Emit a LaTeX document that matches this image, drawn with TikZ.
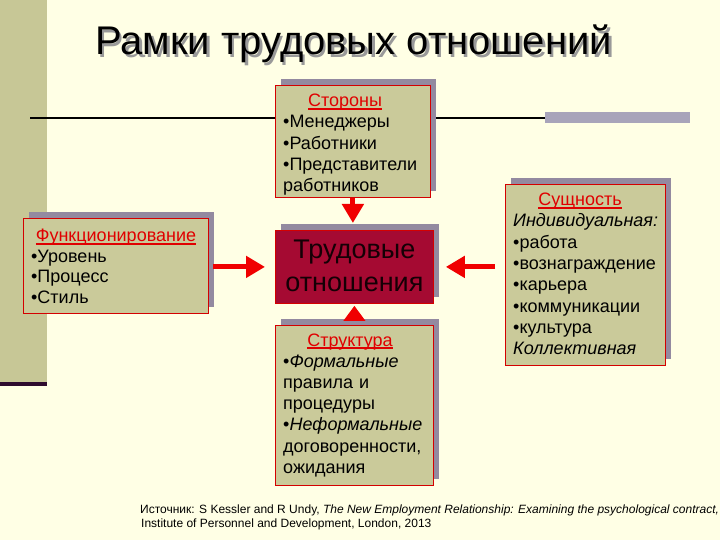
\documentclass[tikz,border=0pt]{standalone}
\usepackage{fontspec}
\setmainfont{Liberation Sans}
\usetikzlibrary{arrows.meta}
\definecolor{bgc}{HTML}{FFFFE5}
\definecolor{sidec}{HTML}{C7C796}
\definecolor{sidedark}{HTML}{2E0B2E}
\definecolor{barc}{HTML}{A8A4BA}
\definecolor{khaki}{HTML}{CACA9A}
\definecolor{boxred}{HTML}{D40000}
\definecolor{shadowc}{HTML}{938AA0}
\definecolor{crimson}{HTML}{A50A32}
\definecolor{arrred}{HTML}{F00000}
\definecolor{hdred}{HTML}{E00000}
\definecolor{inktext}{RGB}{20,0,5}
\newcommand{\hdul}[1]{\setbox0\hbox{#1}\rlap{\rule[-2.6bp]{\wd0}{1.4bp}}\box0}
\newcommand{\shadtext}[1]{\rlap{\kern2.5bp\raisebox{-2.5bp}{\textcolor{black!40}{#1}}}#1}
\tikzset{
  box/.style={draw=boxred, line width=0.8bp, fill=khaki, inner sep=0pt, anchor=north west},
  boxshadow/.style={fill=shadowc},
  hd/.style={anchor=base, inner sep=0pt, text=hdred, font=\fontsize{18bp}{21bp}\selectfont},
  lst/.style={anchor=base west, inner sep=0pt, align=left, text width=#1,
    font=\fontsize{18bp}{21.3bp}\selectfont},
  arr/.style={draw=arrred, line width=5bp, -{Triangle[length=19bp,width=21bp]}},
  src/.style={anchor=base west, inner sep=0pt, font=\fontsize{12bp}{14bp}\selectfont}
}
\begin{document}
\begin{tikzpicture}[x=1bp,y=-1bp]
\useasboundingbox (0,0) rectangle (720,540);
\fill[bgc] (0,0) rectangle (720,540);
\fill[sidec] (0,0) rectangle (47,382);
\fill[sidedark] (0,382) rectangle (47,386);
\draw[line width=2bp] (30,118) -- (690,118);
\fill[barc] (545,112.5) rectangle (690,123.5);
% title
\node[anchor=base west, inner sep=0pt, font=\fontsize{40bp}{48bp}\selectfont] (title) at (95,55) {\shadtext{Рамки трудовых отношений}};
% shadows of the boxes (offset up-right)
\fill[boxshadow] (281,79) rectangle (436,191);
\fill[boxshadow] (29,212) rectangle (214,307);
\fill[boxshadow] (281,224) rectangle (439,297);
\fill[boxshadow] (281,319) rectangle (439,479);
\fill[boxshadow] (511,178) rectangle (671,359);
% boxes
\node[box, minimum width=155bp, minimum height=112bp] (stor) at (275,85) {};
\node[box, minimum width=185bp, minimum height=95bp] (func) at (23,218) {};
\node[box, fill=crimson, minimum width=158bp, minimum height=73bp] (trud) at (275,230) {};
\node[box, minimum width=158bp, minimum height=160bp] (struct) at (275,325) {};
\node[box, minimum width=160bp, minimum height=181bp] (sush) at (505,184) {};
% centre text, drawn on its own
\node[inner sep=0pt, text=inktext, fill=none, align=center, font=\fontsize{27bp}{33bp}\selectfont] (trudT) at ([yshift=1bp]trud.center) {Трудовые\\отношения};
% headings
\node[hd] (storH) at (345,107) {\hdul{Стороны}};
\node[hd] (funcH) at (116,242) {\hdul{Функционирование}};
\node[hd] (structH) at (350,346) {\hdul{Структура}};
\node[hd] (sushH) at (580,206) {\hdul{Сущность}};
% lists
\node[lst=145bp] (storL) at (283,128) {•Менеджеры\\•Работники\\•Представители\\работников};
\node[lst=170bp, font=\fontsize{18bp}{20bp}\selectfont] (funcL) at (31,263) {•Уровень\\•Процесс\\•Стиль};
\node[lst=148bp] (structL) at (283,367) {•\textit{Формальные}\\правила и\\процедуры\\•\textit{Неформальные}\\договоренности,\\ожидания};
\node[lst=150bp] (sushL) at (513,227) {\textit{Индивидуальная:}\\•работа\\•вознаграждение\\•карьера\\•коммуникации\\•культура\\\textit{Коллективная}};
% arrows
\draw[arr] (stor.south) -- ([yshift=7bp]trud.north -| stor.south);
\draw[arr, -{Triangle[length=15bp,width=21bp]}] ([yshift=5bp]struct.north) -- ([yshift=-2bp]trud.south);
\draw[arr] ([xshift=4bp]func.east |- trud.west) -- ([xshift=-10bp]trud.west);
\draw[arr] ([xshift=-10bp]sush.west |- trud.east) -- ([xshift=12bp]trud.east);
% source
\node[src] (src1) at (140,513) {Источник: S Kessler and R Undy, \textit{The New Employment Relationship: Examining the psychological contract,}};
\node[src] (src2) at (141,527) {Institute of Personnel and Development, London, 2013};
\end{tikzpicture}
\end{document}
